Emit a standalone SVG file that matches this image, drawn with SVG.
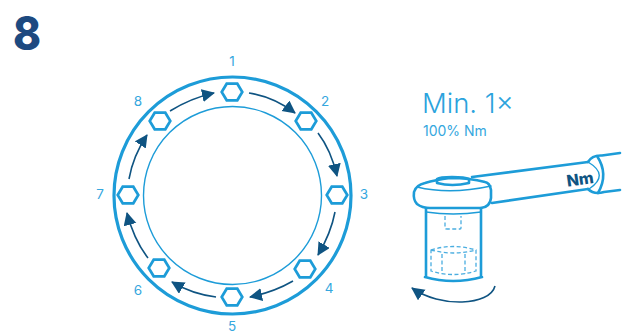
<svg xmlns="http://www.w3.org/2000/svg" width="625" height="334" viewBox="0 0 625 334">
<style>
.b{fill:none;stroke:#1d9cd8;stroke-linecap:round;stroke-linejoin:round}
.l{fill:#35a7de;font-family:"Inter","Liberation Sans",sans-serif;font-weight:400;font-size:13.5px;text-anchor:middle}
.a{fill:none;stroke:#0f5482;stroke-width:1.6}
.h{fill:#fff;stroke:#1d9cd8;stroke-width:2.7;stroke-linejoin:miter}
.d{fill:none;stroke:#49ade0;stroke-width:1.3;stroke-dasharray:4 2.5}
.w{stroke-width:2.6}
</style>
<defs>
<polygon id="hex" class="h" points="-10.3,0 -5.3,-8.3 5.3,-8.3 10.3,0 5.3,8.3 -5.3,8.3"/>
<marker id="ah" markerUnits="userSpaceOnUse" markerWidth="14" markerHeight="14" refX="12" refY="6.5" orient="auto"><polygon points="0,0 13,6.5 0,13" fill="#0f5482"/></marker>
</defs>
<text id="step" transform="translate(27 50) scale(.9 1)" font-family="Inter,'Liberation Sans',sans-serif" font-weight="800" font-size="47" fill="#1d4a80" text-anchor="middle">8</text>
<g id="flange">
<circle cx="232.5" cy="195.5" r="118.5" class="b" stroke-width="3.2"/>
<circle cx="232.5" cy="195.5" r="89" class="b" stroke-width="1.4"/>
</g>
<g id="connectors">
<path class="a" marker-end="url(#ah)" d="M249 93 Q274 97 295 113"/>
<path class="a" marker-end="url(#ah)" d="M318 133 Q331 150 337 176"/>
<path class="a" marker-end="url(#ah)" d="M335 212 Q331 233 318 255"/>
<path class="a" marker-end="url(#ah)" d="M293 281 Q274 292 250 297"/>
<path class="a" marker-end="url(#ah)" d="M216 297 Q192 294 172 282"/>
<path class="a" marker-end="url(#ah)" d="M148 258 Q134 240 127 213"/>
<path class="a" marker-end="url(#ah)" d="M129 179 Q133 156 147 135"/>
<path class="a" marker-end="url(#ah)" d="M170 111 Q191 98 214 93"/>
</g>
<g id="n1"><use href="#hex" x="232" y="92"/><text class="l" x="232" y="66">1</text></g>
<g id="n2"><use href="#hex" x="306" y="121"/><text class="l" x="325" y="106">2</text></g>
<g id="n3"><use href="#hex" x="337" y="195"/><text class="l" x="364" y="199">3</text></g>
<g id="n4"><use href="#hex" x="305" y="269"/><text class="l" x="329" y="293">4</text></g>
<g id="n5"><use href="#hex" x="232" y="297"/><text class="l" x="232" y="331">5</text></g>
<g id="n6"><use href="#hex" x="159" y="268"/><text class="l" x="138" y="295">6</text></g>
<g id="n7"><use href="#hex" x="128" y="195"/><text class="l" x="100" y="199">7</text></g>
<g id="n8"><use href="#hex" x="160" y="121"/><text class="l" x="138" y="106">8</text></g>
<g id="spec">
<text x="422" y="113" font-family="Inter,'Liberation Sans',sans-serif" font-weight="300" font-size="27.5" fill="#2ba3dd">Min. 1×</text>
<text x="423" y="136" font-family="Inter,'Liberation Sans',sans-serif" font-weight="400" font-size="14" fill="#35a7de">100% Nm</text>
</g>
<g id="wrench">
<path class="b w" d="M472 177 L588 162 M492 203 L588 189"/>
<path class="b w" d="M620 153 L602 155.5 Q592 155 588 162 M620 190 L604 192 Q594 195 588 189"/>
<path class="b" stroke-width="1.4" d="M588 162 Q610 175 589 189"/>
<path class="b w" d="M597 156 Q609 174 598 193"/>
<path class="b w" d="M425 183 Q416 185 414 192 Q413 200 417 204 Q422 208 430 208 L481 208 Q490 207 491 198 L491 190 Q490 183 485 182 Q470 178 450 178 Q435 180 425 183Z"/>
<path class="b" stroke-width="1.4" d="M417 187 Q450 195 491 186"/>
<path class="b w" d="M437 179 L437 183 Q452 187 469 183 L469 179 Q465 177 452 177 Q440 177 437 179Z"/>
<path class="b w" d="M426 208 L426 277 M481 208 L481 277 M425 277 Q453 285 482 277"/>
<path class="b" stroke-width="1.4" d="M426 212 Q453 216 481 212"/>
<path class="d" d="M445 216 L445 228 Q445 229 447 229 L460 229 Q461 229 461 228 L461 216"/>
<path class="d" d="M431 250 Q453 243 476 250 L476 271 Q453 278 431 271Z M431 250 Q453 256 476 250 M442 254 L442 274 M465 254 L465 274"/>
<text x="580" y="185" transform="rotate(-8 580 179)" font-family="Inter,'Liberation Sans',sans-serif" font-weight="800" font-size="16" fill="#0f5482" text-anchor="middle">Nm</text>
</g>
<g id="rotation">
<path class="a" marker-end="url(#ah)" d="M495 286 C490 306 440 308 412 288"/>
</g>
</svg>
